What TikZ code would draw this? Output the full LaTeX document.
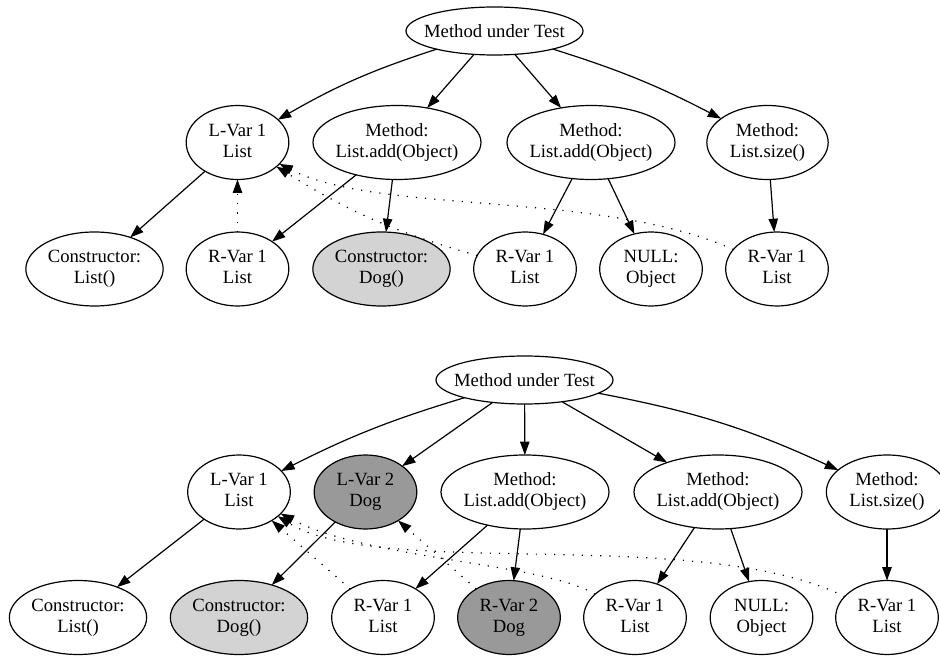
\documentclass[tikz,border=0pt]{standalone}
\usepackage{fontspec}
\setmainfont{Liberation Serif}
\usetikzlibrary{shapes.geometric,arrows.meta}
\definecolor{lightfill}{RGB}{211,211,211}
\definecolor{darkfill}{RGB}{153,153,153}
\newcommand{\twol}[2]{\raisebox{-2.2pt}{\makebox[0pt]{\begin{tabular}{@{}c@{}}#1\\#2\end{tabular}}}}
\newcommand{\onel}[1]{\makebox[0pt]{#1}}
\begin{document}
\begin{tikzpicture}[x=0.75pt,y=0.75pt,
  every node/.style={font=\fontsize{14}{16}\selectfont},
  gnode/.style={draw, ellipse, inner sep=0pt, outer sep=0pt, minimum height=55.5pt, line width=0.9pt},
  mut/.style={gnode, minimum width=132.75pt, minimum height=36pt},
  varn/.style={gnode, minimum width=77pt},
  cons/.style={gnode, minimum width=103pt},
  madd/.style={gnode, minimum width=126pt},
  msize/.style={gnode, minimum width=91pt},
  lite/.style={fill=lightfill},
  dark/.style={fill=darkfill},
  edge/.style={-{Triangle[length=10pt,width=7pt]}, line width=0.9pt},
  dots/.style={edge, dash pattern=on 0.9pt off 6pt}]
\useasboundingbox (0,0) rectangle (940,-656);

% ---------- top graph ----------
\node[mut] (t0) at (494.5,-31) {\onel{Method under Test}};
\node[varn] (tl1) at (237.5,-142.5) {\twol{L-Var 1}{List}};
\node[madd] (tm1) at (397,-142.5) {\twol{Method:}{List.add(Object)}};
\node[madd] (tm2) at (591,-142.5) {\twol{Method:}{List.add(Object)}};
\node[msize] (tm3) at (767.5,-142.5) {\twol{Method:}{List.size()}};
\node[cons] (tc1) at (94.5,-269) {\twol{Constructor:}{List()}};
\node[varn] (tr1) at (237.5,-269) {\twol{R-Var 1}{List}};
\node[cons,lite] (tc2) at (381.5,-269) {\twol{Constructor:}{Dog()}};
\node[varn] (tr2) at (525,-269) {\twol{R-Var 1}{List}};
\node[varn] (tn) at (651,-269) {\twol{NULL:}{Object}};
\node[varn] (tr3) at (777,-269) {\twol{R-Var 1}{List}};

\draw[edge] (t0) to[bend right=6] (tl1);
\draw[edge] (t0) -- (tm1);
\draw[edge] (t0) -- (tm2);
\draw[edge] (t0) to[bend left=5] (tm3);
\draw[edge] (tl1) -- (tc1);
\draw[edge] (tm1) -- (tr1);
\draw[edge] (tm1) -- (tc2);
\draw[edge] (tm2) -- (tr2);
\draw[edge] (tm2) -- (tn);
\draw[edge] (tm3) -- (tr3);

\draw[dots] (tr1) -- (tl1);
\draw[dots] (tr2) to[bend left=8] (tl1);
\draw[dots] (tr3) .. controls (600,-190) and (380,-215) .. (tl1);

% ---------- bottom graph ----------
\node[mut] (b0) at (524.5,-380) {\onel{Method under Test}};
\node[varn] (bl1) at (239,-492) {\twol{L-Var 1}{List}};
\node[varn,dark] (bl2) at (365.5,-492) {\twol{L-Var 2}{Dog}};
\node[madd] (bm1) at (525,-492) {\twol{Method:}{List.add(Object)}};
\node[madd] (bm2) at (718,-492) {\twol{Method:}{List.add(Object)}};
\node[msize] (bm3) at (887,-492) {\twol{Method:}{List.size()}};
\node[cons] (bc1) at (78,-617.5) {\twol{Constructor:}{List()}};
\node[cons,lite] (bc2) at (239,-617.5) {\twol{Constructor:}{Dog()}};
\node[varn] (br1) at (383,-617.5) {\twol{R-Var 1}{List}};
\node[varn,dark] (br2) at (509,-617.5) {\twol{R-Var 2}{Dog}};
\node[varn] (br3) at (635,-617.5) {\twol{R-Var 1}{List}};
\node[varn] (bn) at (761.5,-617.5) {\twol{NULL:}{Object}};
\node[varn] (br4) at (887,-617.5) {\twol{R-Var 1}{List}};

\draw[edge] (b0) to[bend right=5] (bl1);
\draw[edge] (b0) -- (bl2);
\draw[edge] (b0) -- (bm1);
\draw[edge] (b0) -- (bm2);
\draw[edge] (b0) to[bend left=7] (bm3);
\draw[edge] (bl1) -- (bc1);
\draw[edge] (bl2) -- (bc2);
\draw[edge] (bm1) -- (br1);
\draw[edge] (bm1) -- (br2);
\draw[edge] (bm2) -- (br3);
\draw[edge] (bm2) -- (bn);
\draw[edge] (bm3) -- (br4);

\draw[dots] (br1) -- (bl1);
\draw[dots] (br2) -- (bl2);
\draw[dots] (br3) .. controls (540,-562) and (370,-560) .. (bl1);
\draw[dots] (br4) .. controls (700,-525) and (380,-580) .. (bl1);
\end{tikzpicture}
\end{document}
